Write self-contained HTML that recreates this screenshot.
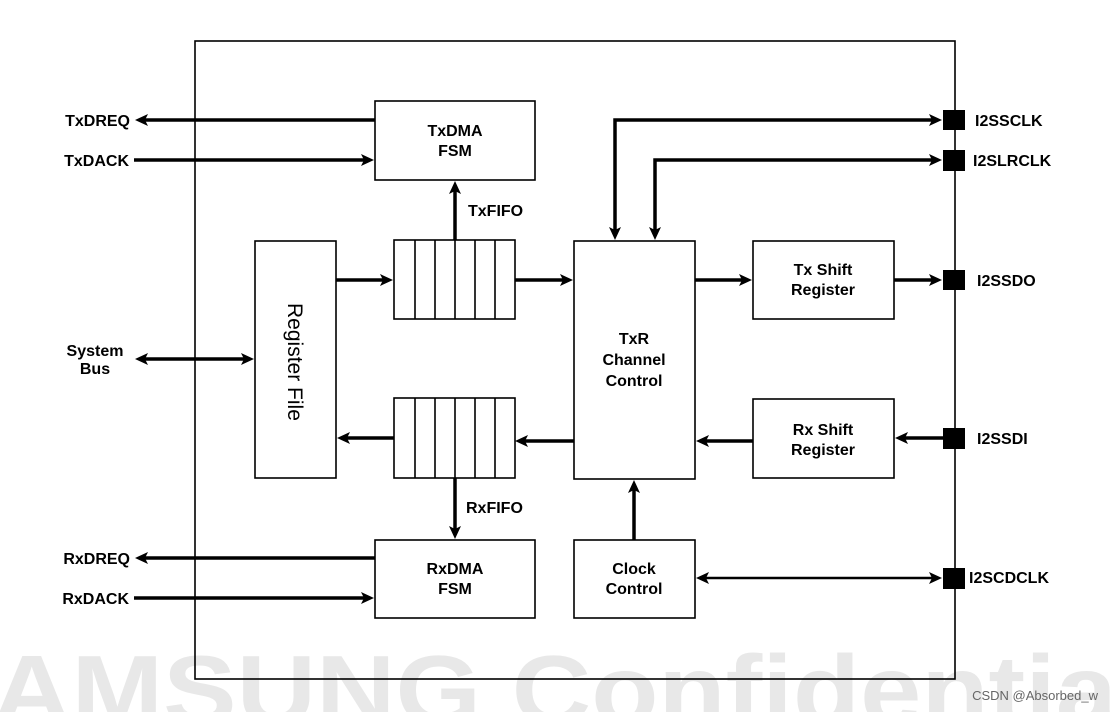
<!DOCTYPE html>
<html><head><meta charset="utf-8"><style>
html,body{margin:0;padding:0;background:#fff;width:1113px;height:712px;overflow:hidden;}
svg{display:block;overflow:hidden;}
text{font-family:"Liberation Sans",Arial,sans-serif;}
.b{font-weight:bold;font-size:16px;fill:#000;}
</style></head><body>
<svg width="1113" height="712" viewBox="0 0 1113 712" xmlns="http://www.w3.org/2000/svg">
<rect width="1113" height="712" fill="#fff"/>
<text x="-8" y="724" font-size="98" font-weight="bold" fill="#e8e8e8" textLength="1125" lengthAdjust="spacingAndGlyphs">AMSUNG Confidentia</text>
<rect x="195" y="41" width="760" height="638" fill="none" stroke="#000" stroke-width="1.6"/>
<g fill="#fff" stroke="#000" stroke-width="1.6">
<rect x="375" y="101" width="160" height="79"/>
<rect x="375" y="540" width="160" height="78"/>
<rect x="255" y="241" width="81" height="237"/>
<rect x="394" y="240" width="121" height="79"/>
<rect x="394" y="398" width="121" height="80"/>
<rect x="574" y="241" width="121" height="238"/>
<rect x="753" y="241" width="141" height="78"/>
<rect x="753" y="399" width="141" height="79"/>
<rect x="574" y="540" width="121" height="78"/>
</g>
<g stroke="#000" stroke-width="1.6">
<path d="M415 240V319M435 240V319M455 240V319M475 240V319M495 240V319"/>
<path d="M415 398V478M435 398V478M455 398V478M475 398V478M495 398V478"/>
</g>
<g fill="#000">
<rect x="943" y="110" width="22" height="20"/>
<rect x="943" y="150" width="22" height="21"/>
<rect x="943" y="270" width="22" height="20"/>
<rect x="943" y="428" width="22" height="21"/>
<rect x="943" y="568" width="22" height="21"/>
</g>
<g stroke="#000" stroke-width="3.5" fill="none">
<path d="M375 120H145"/>
<path d="M134 160H364"/>
<path d="M455 240V190"/>
<path d="M336 280H384"/>
<path d="M515 280H564"/>
<path d="M695 280H743"/>
<path d="M894 280H933"/>
<path d="M933 120H615V231"/>
<path d="M933 160H655V231"/>
<path d="M145 359H245"/>
<path d="M394 438H346"/>
<path d="M574 441H525"/>
<path d="M753 441H706"/>
<path d="M943 438H904"/>
<path d="M455 478V530"/>
<path d="M375 558H145"/>
<path d="M134 598H364"/>
<path d="M634 540V489"/>
<path d="M705 578H933" stroke-width="2.5"/>
</g>
<g fill="#000">
<path d="M135 120l13-6-3 6 3 6z"/>
<path d="M135 359l13-6-3 6 3 6z"/>
<path d="M135 558l13-6-3 6 3 6z"/>
<path d="M337 438l13-6-3 6 3 6z"/>
<path d="M515 441l13-6-3 6 3 6z"/>
<path d="M696 441l13-6-3 6 3 6z"/>
<path d="M895 438l13-6-3 6 3 6z"/>
<path d="M696 578l13-6-3 6 3 6z"/>
<path d="M374 160l-13-6 3 6-3 6z"/>
<path d="M374 598l-13-6 3 6-3 6z"/>
<path d="M254 359l-13-6 3 6-3 6z"/>
<path d="M393 280l-13-6 3 6-3 6z"/>
<path d="M573 280l-13-6 3 6-3 6z"/>
<path d="M752 280l-13-6 3 6-3 6z"/>
<path d="M942 280l-13-6 3 6-3 6z"/>
<path d="M942 120l-13-6 3 6-3 6z"/>
<path d="M942 160l-13-6 3 6-3 6z"/>
<path d="M942 578l-13-6 3 6-3 6z"/>
<path d="M615 240l-6-13 6 3 6-3z"/>
<path d="M655 240l-6-13 6 3 6-3z"/>
<path d="M455 539l-6-13 6 3 6-3z"/>
<path d="M455 181l-6 13 6-3 6 3z"/>
<path d="M634 480l-6 13 6-3 6 3z"/>
</g>
<g class="b" text-anchor="end">
<text x="130" y="126">TxDREQ</text>
<text x="129" y="166">TxDACK</text>
<text x="130" y="564">RxDREQ</text>
<text x="129" y="604">RxDACK</text>
</g>
<g class="b" text-anchor="middle">
<text x="95" y="356">System</text>
<text x="95" y="374">Bus</text>
<text x="455" y="136">TxDMA</text>
<text x="455" y="156">FSM</text>
<text x="455" y="574">RxDMA</text>
<text x="455" y="594">FSM</text>
<text x="634" y="344">TxR</text>
<text x="634" y="365">Channel</text>
<text x="634" y="386">Control</text>
<text x="823" y="275">Tx Shift</text>
<text x="823" y="295">Register</text>
<text x="823" y="435">Rx Shift</text>
<text x="823" y="455">Register</text>
<text x="634" y="574">Clock</text>
<text x="634" y="594">Control</text>
</g>
<g class="b">
<text x="468" y="216">TxFIFO</text>
<text x="466" y="513">RxFIFO</text>
<text x="975" y="126">I2SSCLK</text>
<text x="973" y="166">I2SLRCLK</text>
<text x="977" y="286">I2SSDO</text>
<text x="977" y="444">I2SSDI</text>
<text x="969" y="583">I2SCDCLK</text>
</g>
<text transform="translate(288,303) rotate(90)" font-size="21" fill="#000">Register File</text>
<text x="1098" y="700" text-anchor="end" font-size="13" fill="#666">CSDN @Absorbed_w</text>
</svg>
</body></html>
